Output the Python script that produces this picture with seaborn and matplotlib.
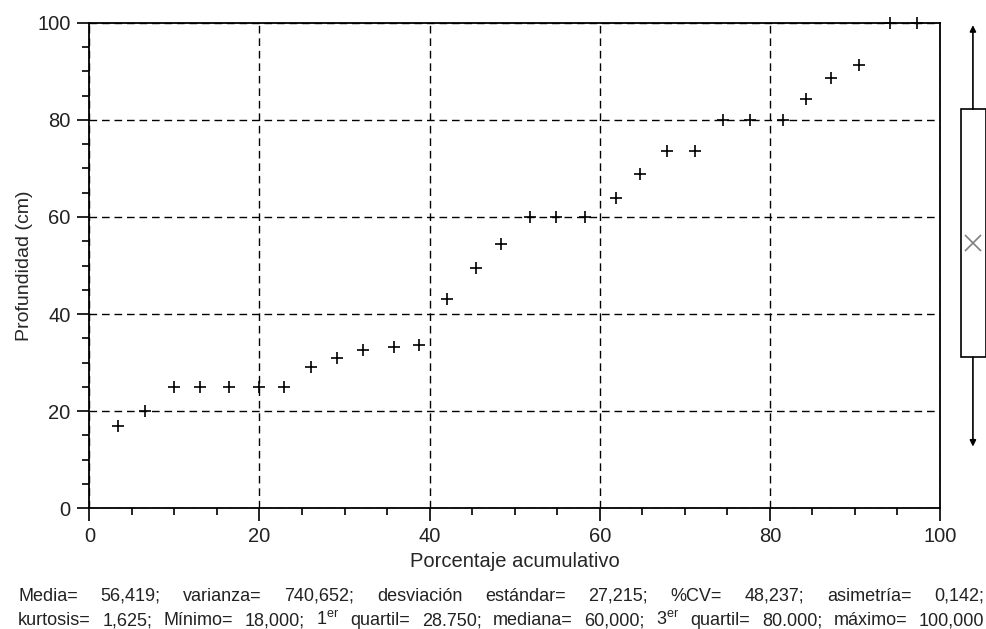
import matplotlib.pyplot as plt
import seaborn as sns

sns.set_style('white')
plt.rcParams['font.family'] = ['Liberation Sans', 'DejaVu Sans']
plt.rcParams['text.color'] = '#222222'

# Cumulative percentage (x) and depth in cm (y)
x_pct = [3.4, 6.6, 9.9, 13.0, 16.4, 19.9, 22.9, 26.1, 29.1, 32.2,
         35.8, 38.8, 42.1, 45.5, 48.4, 51.8, 54.9, 58.3, 61.9, 64.7,
         67.9, 71.2, 74.5, 77.7, 81.5, 84.2, 87.2, 90.5, 94.1, 97.3]
depth = [17, 20, 25, 25, 25, 25, 25, 29, 31, 32.7,
         33.2, 33.7, 43, 49.5, 54.5, 60, 60, 60, 64, 68.8,
         73.6, 73.6, 80, 80, 80, 84.3, 88.6, 91.2, 100, 100]

ticks = [0, 20, 40, 60, 80, 100]

# Summary box drawn to the right of the plot
box_low = 31.1
box_high = 82.2
box_mark = 54.6
whisker_low = 12.7
whisker_high = 99.5

stats_lines = [
    'Media= 56,419; varianza= 740,652; desviación estándar= 27,215; '
    '%CV= 48,237; asimetría= 0,142;',
    'kurtosis= 1,625; Mínimo= 18,000; 1$^{\\mathregular{er}}$ quartil= 28.750; '
    'mediana= 60,000; 3$^{\\mathregular{er}}$ quartil= 80.000; máximo= 100,000',
]


def justify(fig, line, x0, x1, y, size):
    # lay out words so the line fills x0..x1 (pixels), like the original
    words = line.split(' ')
    r = fig.canvas.get_renderer()
    arts = [fig.text(0, y, w, fontsize=size, va='baseline') for w in words]
    widths = [a.get_window_extent(r).width for a in arts]
    min_gap = 4.0
    if sum(widths) + min_gap * (len(words) - 1) > x1 - x0:
        for a in arts:
            a.remove()
        size = size * (x1 - x0 - min_gap * (len(words) - 1)) / sum(widths)
        arts = [fig.text(0, y, w, fontsize=size, va='baseline') for w in words]
        widths = [a.get_window_extent(r).width for a in arts]
    gap = (x1 - x0 - sum(widths)) / (len(words) - 1)
    W = fig.bbox.width
    x = x0
    for a, w in zip(arts, widths):
        a.set_x(x / W)
        x += w + gap


def main():
    fig = plt.figure(figsize=(9.87, 6.29), dpi=100)
    ax = fig.add_axes([0.0905, 0.1919, 0.8619, 0.7720])

    sns.scatterplot(x=x_pct, y=depth, marker='+', s=85, color='black',
                    linewidth=1.2, clip_on=False, zorder=4, legend=False, ax=ax)

    ax.set_xlim(0, 100)
    ax.set_ylim(0, 100)
    ax.set_xticks(ticks)
    ax.set_yticks(ticks)
    ax.set_xticks(range(0, 101, 5), minor=True)
    ax.set_yticks(range(0, 101, 5), minor=True)
    ax.tick_params(which='major', direction='out', length=9, width=1.2,
                   color='black', labelsize=14.5, labelcolor='#222222', pad=4.5,
                   bottom=True, left=True)
    ax.tick_params(which='minor', direction='out', length=5, width=1.2,
                   color='black', bottom=True, left=True)
    ax.grid(True, which='major', color='black', linewidth=1.0,
            linestyle=(0, (5.5, 3.5)))
    for s in ax.spines.values():
        s.set_color('black')
        s.set_linewidth(1.3)
        s.set_zorder(3)

    ax.set_xlabel('Porcentaje acumulativo', fontsize=14.5, labelpad=4)
    ax.set_ylabel('Profundidad (cm)', fontsize=14, labelpad=3)

    # box summary panel on the right
    bx = fig.add_axes([955 / 987, 0.1919, 32 / 987, 0.7720])
    bx.set_xlim(0, 1)
    bx.set_ylim(0, 100)
    bx.axis('off')
    bx.add_patch(plt.Rectangle((0.18, box_low), 0.78, box_high - box_low,
                               facecolor='white', edgecolor='black', lw=1.2))
    arrow = dict(arrowstyle='-|>', color='black', lw=1.2, mutation_scale=9,
                 shrinkA=0, shrinkB=0)
    bx.annotate('', xy=(0.56, whisker_high), xytext=(0.56, box_high),
                arrowprops=arrow, annotation_clip=False)
    bx.annotate('', xy=(0.56, whisker_low), xytext=(0.56, box_low),
                arrowprops=arrow, annotation_clip=False)
    bx.plot([0.57], [box_mark], marker='x', color='#808080', markersize=11,
            markeredgewidth=1.2, clip_on=False)

    fig.canvas.draw()
    H = fig.bbox.height
    justify(fig, stats_lines[0], 18, 984, 1 - 600.7 / H, 13)
    justify(fig, stats_lines[1], 18, 984, 1 - 625.0 / H, 13)

    plt.savefig('out.png', dpi=100)


if __name__ == '__main__':
    main()
